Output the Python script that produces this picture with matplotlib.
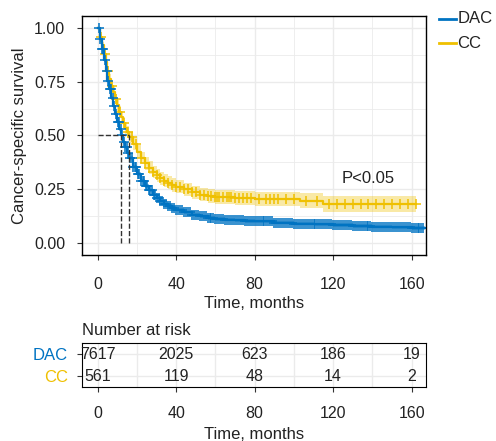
import numpy as np
import matplotlib.pyplot as plt
from matplotlib.ticker import MultipleLocator

plt.rcParams['font.family'] = ['Liberation Sans', 'DejaVu Sans']

# survival curves (time in months, survival)
dac_t = [0, 1, 2, 3, 4, 5, 6, 7, 8, 9, 10, 11, 12, 13, 14, 15, 16, 18, 20, 22, 24, 26, 28, 30,
         32, 34, 36, 38, 40, 44, 48, 52, 56, 60, 65, 70, 75, 80, 90, 100, 110, 120, 130, 140,
         150, 160, 167]
dac_s = [1.00, 0.95, 0.90, 0.85, 0.80, 0.755, 0.715, 0.675, 0.635, 0.60, 0.565, 0.53, 0.50,
         0.47, 0.445, 0.42, 0.395, 0.355, 0.32, 0.29, 0.265, 0.245, 0.225, 0.21, 0.195, 0.183,
         0.172, 0.163, 0.155, 0.142, 0.132, 0.124, 0.117, 0.112, 0.108, 0.105, 0.102, 0.10,
         0.095, 0.09, 0.086, 0.083, 0.079, 0.076, 0.073, 0.071, 0.068]
dac_ci = [0.0, 0.005, 0.006, 0.007, 0.008, 0.008, 0.008, 0.008, 0.008, 0.008, 0.008, 0.008,
          0.008, 0.008, 0.008, 0.008, 0.008, 0.008, 0.008, 0.008, 0.008, 0.008, 0.008, 0.008,
          0.008, 0.008, 0.008, 0.008, 0.008, 0.008, 0.008, 0.008, 0.008, 0.008, 0.008, 0.008,
          0.008, 0.008, 0.008, 0.008, 0.008, 0.008, 0.008, 0.008, 0.008, 0.009, 0.009]

cc_t = [0, 1, 2, 3, 4, 5, 6, 7, 8, 9, 10, 11, 12, 13, 14, 15, 16, 18, 20, 22, 24, 26, 28, 30,
        32, 34, 36, 38, 40, 44, 48, 52, 56, 60, 70, 80, 103, 115, 162]
cc_s = [1.00, 0.96, 0.92, 0.88, 0.84, 0.80, 0.765, 0.73, 0.70, 0.67, 0.64, 0.61, 0.585, 0.56,
        0.535, 0.515, 0.495, 0.46, 0.425, 0.395, 0.37, 0.35, 0.33, 0.315, 0.30, 0.29, 0.28,
        0.27, 0.262, 0.25, 0.235, 0.225, 0.218, 0.213, 0.21, 0.205, 0.197, 0.18, 0.18]
cc_ci = [0.0, 0.012, 0.016, 0.019, 0.021, 0.022, 0.023, 0.024, 0.025, 0.025, 0.026, 0.026,
         0.027, 0.027, 0.027, 0.028, 0.028, 0.028, 0.029, 0.029, 0.029, 0.03, 0.03, 0.03,
         0.03, 0.03, 0.031, 0.031, 0.031, 0.031, 0.032, 0.032, 0.032, 0.032, 0.033, 0.034,
         0.036, 0.038, 0.038]

# censoring marks
dac_cens = [0.5, 1.3, 2.1, 2.9, 3.7, 4.5, 5.3, 6.1, 6.9, 7.7, 8.5, 9.3, 10.1, 10.9, 11.7,
            12.5, 13.3, 14.1, 14.9, 15.7, 16.5, 17.3, 18.1, 18.9, 19.7, 20.5, 21.3, 22.1,
            22.9, 23.7, 24.5, 25.3, 26.1, 26.9, 27.7, 28.5, 29.3, 30.1, 31, 32, 33, 34, 35,
            36, 37, 38, 39, 40, 41, 42, 43, 44, 45, 46, 47, 48, 49, 50, 51, 52, 53, 54, 55,
            56, 57, 58, 59, 60, 61, 62, 63, 64, 65, 66, 67, 68, 69, 70, 71, 72, 73, 74, 75,
            76, 77, 78, 79, 80, 81, 82, 83, 84, 85, 86, 87, 88, 89, 90, 91, 92, 93, 94, 95,
            96, 97, 98, 99, 100, 101, 102, 103, 104, 105, 106, 107, 108, 109, 110, 111, 112,
            113, 114, 115, 116, 117, 118, 119, 120, 121, 122, 123, 124, 125, 126, 127, 128,
            129, 130, 131, 132, 133, 134, 135, 136, 137, 138, 139, 140, 141, 142, 143, 144,
            145, 146, 147, 148, 149, 150, 151, 152, 153, 154, 155, 156, 157, 158, 159, 160,
            161, 162, 163, 164, 165, 166]
cc_cens = [1.5, 3.5, 5.5, 7.5, 9.5, 11.5, 13.5, 15.5, 17.5, 19.5, 22, 24, 26, 28, 30, 32,
           34, 36, 38, 40, 42, 44, 46, 48, 50, 52, 54, 56, 58, 60, 61, 62, 64, 66, 67, 68,
           70, 72, 74, 76, 78, 82, 86, 88, 90, 92, 96, 100, 106, 112, 118, 122, 126, 130,
           134, 138, 142, 146, 150, 154, 158, 162]

medians = [12, 16]
risk_times = [0, 40, 80, 120, 160]
dac_risk = [7617, 2025, 623, 186, 19]
cc_risk = [561, 119, 48, 14, 2]

blue = '#0073C2'
gold = '#EFC000'
grid_col = '#EBEBEB'
txt = '#222222'

fig = plt.figure(figsize=(4.96, 4.41), dpi=100)
ax = fig.add_axes([0.1653, 0.4218, 0.6935, 0.5420])


def step_at(ts, ss, x):
    idx = np.searchsorted(ts, x, side='right') - 1
    return np.array(ss)[idx]


for t, s, ci, cens, col in [(cc_t, cc_s, cc_ci, cc_cens, gold), (dac_t, dac_s, dac_ci, dac_cens, blue)]:
    s = np.array(s)
    ci = np.array(ci)
    ax.fill_between(t, s - ci, s + ci, step='post', color=col, alpha=0.35, lw=0)
    ax.step(t, s, where='post', color=col, lw=1.6)
    ax.plot(cens, step_at(t, s, cens), ls='none', marker='+', ms=6.5, mew=1.1, color=col)

# median lines
ax.plot([0, medians[1]], [0.5, 0.5], ls='--', color='#333333', lw=1)
for m in medians:
    ax.plot([m, m], [0, 0.5], ls='--', color='#333333', lw=1)

ax.set_xlim(-8, 167.3)
ax.set_ylim(-0.056, 1.056)
ax.set_xticks(risk_times)
ax.set_yticks([0, 0.25, 0.5, 0.75, 1.0])
ax.set_yticklabels(['0.00', '0.25', '0.50', '0.75', '1.00'])
ax.xaxis.set_minor_locator(MultipleLocator(20))
ax.yaxis.set_minor_locator(MultipleLocator(0.125))
ax.grid(True, which='major', color=grid_col, lw=1)
ax.grid(True, which='minor', color=grid_col, lw=0.6)
ax.set_axisbelow(True)
ax.tick_params(which='minor', length=0)
ax.tick_params(which='major', length=3.5, labelsize=11.5, color='#333333', labelcolor=txt)
ax.tick_params(axis='x', pad=12.5)
ax.tick_params(axis='y', pad=8.5)
for sp in ax.spines.values():
    sp.set_linewidth(1)
ax.set_xlabel('Time, months', fontsize=12, labelpad=3, color=txt)
ax.set_ylabel('Cancer-specific survival', fontsize=12, labelpad=5, color=txt)
ax.text(124.5, 0.30, 'P<0.05', fontsize=12, ha='left', va='center', color=txt)

# legend outside, top right
fig.lines.append(plt.Line2D([0.885, 0.920], [0.957, 0.957], color=blue, lw=2, transform=fig.transFigure))
fig.lines.append(plt.Line2D([0.885, 0.920], [0.902, 0.902], color=gold, lw=2, transform=fig.transFigure))
fig.text(0.922, 0.957, 'DAC', fontsize=12, va='center', ha='left', color=txt)
fig.text(0.922, 0.902, 'CC', fontsize=12, va='center', ha='left', color=txt)

# risk table
rax = fig.add_axes([0.1653, 0.1224, 0.6935, 0.0998])
rax.set_xlim(-8, 167.3)
rax.set_ylim(0.5, 2.5)
for x, v in zip(risk_times, dac_risk):
    rax.text(x, 2, str(v), ha='center', va='center', fontsize=11.5, color=txt)
for x, v in zip(risk_times, cc_risk):
    rax.text(x, 1, str(v), ha='center', va='center', fontsize=11.5, color=txt)
rax.set_xticks(risk_times)
rax.set_yticks([1, 2])
rax.set_yticklabels(['CC', 'DAC'])
rax.xaxis.set_minor_locator(MultipleLocator(20))
rax.grid(True, which='both', color=grid_col, lw=1)
rax.set_axisbelow(True)
rax.tick_params(which='minor', length=0)
rax.tick_params(which='major', length=3.5, labelsize=11.5, color='#333333', labelcolor=txt)
rax.tick_params(axis='x', pad=10.5)
rax.tick_params(axis='y', labelsize=12, pad=6.5)
for lab, col in zip(rax.get_yticklabels(), [gold, blue]):
    lab.set_color(col)
rax.set_xlabel('Time, months', fontsize=12, labelpad=4, color=txt)
rax.set_title('Number at risk', fontsize=12, loc='left', pad=6, color=txt, x=0.0)

fig.savefig('out.png', dpi=100)
